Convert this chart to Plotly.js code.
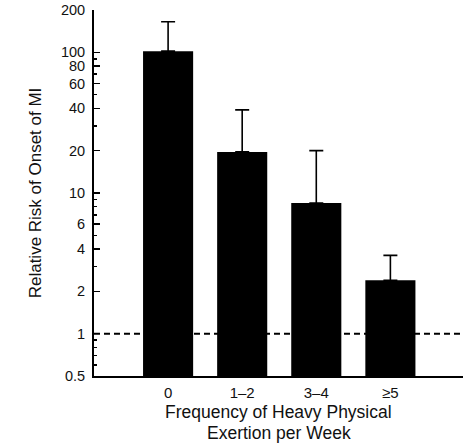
<!DOCTYPE html>
<html>
<head>
<meta charset="utf-8">
<script src="https://cdn.plot.ly/plotly-3.0.1.min.js"></script>
<style>html,body{margin:0;padding:0;background:#fff;}#chart{width:464px;height:443px;}</style>
</head>
<body>
<div id="chart"></div>
<script>
// Data
const categories = ["0", "1\u20132", "3\u20134", "\u22655"];
const relativeRisk = [102, 19.6, 8.5, 2.4];
const upperCI = [165, 39, 20, 3.6];
const referenceRisk = 1;
const yTickVals = [0.5, 1, 2, 4, 6, 10, 20, 40, 60, 80, 100, 200];
const yTickText = ["0.5", "1", "2", "4", "6", "10", "20", "40", "60", "80", "100", "200"];
const yMinorVals = [0.6, 0.7, 0.8, 0.9, 3, 5, 7, 8, 9, 30, 50, 70, 90];
const xTitleLines = ["Frequency of Heavy Physical", "Exertion per Week"];

const errPlus = upperCI.map((u, i) => u - relativeRisk[i]);
const errMinus = relativeRisk.map(() => 0);

const FONT = "Liberation Sans, Arial, Helvetica, sans-serif";

const traces = [{
  type: "bar",
  x: categories,
  y: relativeRisk,
  marker: {color: "#000", line: {width: 0}},
  error_y: {type: "data", symmetric: false, array: errPlus, arrayminus: errMinus,
            color: "#000", thickness: 1.6, width: 7},
  hoverinfo: "x+y"
}];

const layout = {
  width: 464, height: 443,
  margin: {l: 94, r: 1, t: 10, b: 67},
  paper_bgcolor: "#fff", plot_bgcolor: "#fff",
  showlegend: false,
  bargap: 0.324,
  font: {family: FONT, color: "#111", size: 14},
  xaxis: {
    type: "category",
    range: [-1, 3.98],
    showline: true, linecolor: "#000", linewidth: 2,
    ticks: "", showgrid: false, zeroline: false,
    tickfont: {size: 15},
    ticklabelstandoff: 2
  },
  yaxis: {
    type: "log",
    range: [Math.log10(0.5), Math.log10(200)],
    showline: true, linecolor: "#000", linewidth: 2,
    showgrid: false, zeroline: false,
    ticks: "inside", ticklen: 6, tickwidth: 1.5, tickcolor: "#000",
    tickmode: "array", tickvals: yTickVals, ticktext: yTickText,
    tickfont: {size: 14.5},
    ticklabelstandoff: 4,
    minor: {ticks: "inside", ticklen: 3, tickwidth: 1.5, tickcolor: "#000",
            tickmode: "array", tickvals: yMinorVals, showgrid: false},
    title: {text: "Relative Risk of Onset of MI", font: {size: 17}, standoff: 15}
  },
  annotations: [
    {text: xTitleLines[0], xref: "paper", yref: "paper", x: 0.5, y: -0.0995,
     xanchor: "center", yanchor: "middle", showarrow: false, font: {size: 17.5}},
    {text: xTitleLines[1], xref: "paper", yref: "paper", x: 0.5, y: -0.155,
     xanchor: "center", yanchor: "middle", showarrow: false, font: {size: 17.5}}
  ],
  shapes: [{
    type: "line", layer: "below",
    xref: "paper", x0: 0, x1: 1,
    yref: "y", y0: referenceRisk, y1: referenceRisk,
    line: {color: "#000", width: 2, dash: "6px,4px"}
  }]
};

Plotly.newPlot("chart", traces, layout, {displayModeBar: false, staticPlot: true});
</script>
</body>
</html>
